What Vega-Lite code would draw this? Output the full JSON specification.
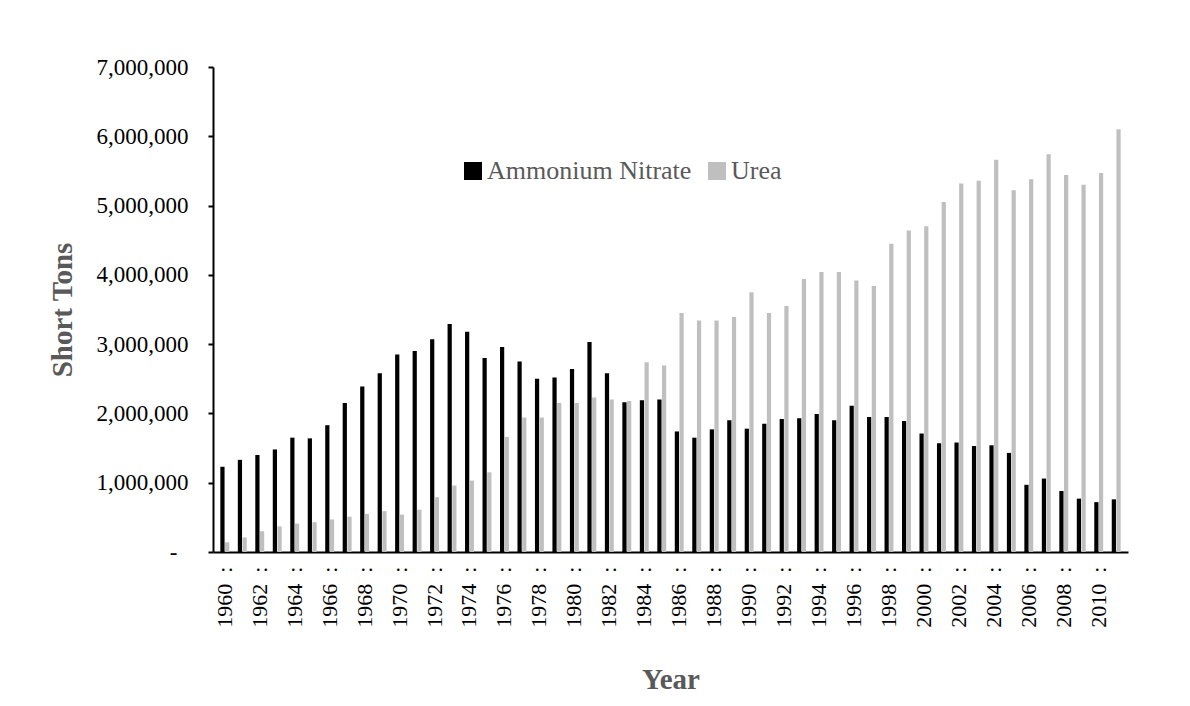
{
  "$schema": "https://vega.github.io/schema/vega-lite/v6.json",
  "width": 915,
  "height": 485,
  "autosize": {"type": "none"},
  "padding": {"left": 213, "top": 67, "right": 62, "bottom": 154},
  "background": "white",
  "config": {"view": {"stroke": null}, "font": "Liberation Serif"},
  "data": {"values": [
    {"year":1960,"type":"Ammonium Nitrate","tons":1230000},{"year":1960,"type":"Urea","tons":140000},
    {"year":1961,"type":"Ammonium Nitrate","tons":1330000},{"year":1961,"type":"Urea","tons":210000},
    {"year":1962,"type":"Ammonium Nitrate","tons":1400000},{"year":1962,"type":"Urea","tons":300000},
    {"year":1963,"type":"Ammonium Nitrate","tons":1480000},{"year":1963,"type":"Urea","tons":370000},
    {"year":1964,"type":"Ammonium Nitrate","tons":1650000},{"year":1964,"type":"Urea","tons":410000},
    {"year":1965,"type":"Ammonium Nitrate","tons":1640000},{"year":1965,"type":"Urea","tons":430000},
    {"year":1966,"type":"Ammonium Nitrate","tons":1830000},{"year":1966,"type":"Urea","tons":470000},
    {"year":1967,"type":"Ammonium Nitrate","tons":2150000},{"year":1967,"type":"Urea","tons":510000},
    {"year":1968,"type":"Ammonium Nitrate","tons":2390000},{"year":1968,"type":"Urea","tons":550000},
    {"year":1969,"type":"Ammonium Nitrate","tons":2580000},{"year":1969,"type":"Urea","tons":590000},
    {"year":1970,"type":"Ammonium Nitrate","tons":2850000},{"year":1970,"type":"Urea","tons":540000},
    {"year":1971,"type":"Ammonium Nitrate","tons":2900000},{"year":1971,"type":"Urea","tons":610000},
    {"year":1972,"type":"Ammonium Nitrate","tons":3070000},{"year":1972,"type":"Urea","tons":790000},
    {"year":1973,"type":"Ammonium Nitrate","tons":3290000},{"year":1973,"type":"Urea","tons":960000},
    {"year":1974,"type":"Ammonium Nitrate","tons":3180000},{"year":1974,"type":"Urea","tons":1030000},
    {"year":1975,"type":"Ammonium Nitrate","tons":2800000},{"year":1975,"type":"Urea","tons":1150000},
    {"year":1976,"type":"Ammonium Nitrate","tons":2960000},{"year":1976,"type":"Urea","tons":1660000},
    {"year":1977,"type":"Ammonium Nitrate","tons":2750000},{"year":1977,"type":"Urea","tons":1940000},
    {"year":1978,"type":"Ammonium Nitrate","tons":2500000},{"year":1978,"type":"Urea","tons":1940000},
    {"year":1979,"type":"Ammonium Nitrate","tons":2520000},{"year":1979,"type":"Urea","tons":2150000},
    {"year":1980,"type":"Ammonium Nitrate","tons":2640000},{"year":1980,"type":"Urea","tons":2150000},
    {"year":1981,"type":"Ammonium Nitrate","tons":3030000},{"year":1981,"type":"Urea","tons":2230000},
    {"year":1982,"type":"Ammonium Nitrate","tons":2580000},{"year":1982,"type":"Urea","tons":2200000},
    {"year":1983,"type":"Ammonium Nitrate","tons":2160000},{"year":1983,"type":"Urea","tons":2180000},
    {"year":1984,"type":"Ammonium Nitrate","tons":2190000},{"year":1984,"type":"Urea","tons":2740000},
    {"year":1985,"type":"Ammonium Nitrate","tons":2200000},{"year":1985,"type":"Urea","tons":2690000},
    {"year":1986,"type":"Ammonium Nitrate","tons":1740000},{"year":1986,"type":"Urea","tons":3450000},
    {"year":1987,"type":"Ammonium Nitrate","tons":1650000},{"year":1987,"type":"Urea","tons":3340000},
    {"year":1988,"type":"Ammonium Nitrate","tons":1770000},{"year":1988,"type":"Urea","tons":3340000},
    {"year":1989,"type":"Ammonium Nitrate","tons":1900000},{"year":1989,"type":"Urea","tons":3390000},
    {"year":1990,"type":"Ammonium Nitrate","tons":1780000},{"year":1990,"type":"Urea","tons":3750000},
    {"year":1991,"type":"Ammonium Nitrate","tons":1850000},{"year":1991,"type":"Urea","tons":3450000},
    {"year":1992,"type":"Ammonium Nitrate","tons":1920000},{"year":1992,"type":"Urea","tons":3550000},
    {"year":1993,"type":"Ammonium Nitrate","tons":1930000},{"year":1993,"type":"Urea","tons":3940000},
    {"year":1994,"type":"Ammonium Nitrate","tons":1990000},{"year":1994,"type":"Urea","tons":4040000},
    {"year":1995,"type":"Ammonium Nitrate","tons":1900000},{"year":1995,"type":"Urea","tons":4040000},
    {"year":1996,"type":"Ammonium Nitrate","tons":2110000},{"year":1996,"type":"Urea","tons":3920000},
    {"year":1997,"type":"Ammonium Nitrate","tons":1950000},{"year":1997,"type":"Urea","tons":3840000},
    {"year":1998,"type":"Ammonium Nitrate","tons":1950000},{"year":1998,"type":"Urea","tons":4450000},
    {"year":1999,"type":"Ammonium Nitrate","tons":1890000},{"year":1999,"type":"Urea","tons":4640000},
    {"year":2000,"type":"Ammonium Nitrate","tons":1710000},{"year":2000,"type":"Urea","tons":4700000},
    {"year":2001,"type":"Ammonium Nitrate","tons":1570000},{"year":2001,"type":"Urea","tons":5050000},
    {"year":2002,"type":"Ammonium Nitrate","tons":1580000},{"year":2002,"type":"Urea","tons":5320000},
    {"year":2003,"type":"Ammonium Nitrate","tons":1530000},{"year":2003,"type":"Urea","tons":5360000},
    {"year":2004,"type":"Ammonium Nitrate","tons":1540000},{"year":2004,"type":"Urea","tons":5660000},
    {"year":2005,"type":"Ammonium Nitrate","tons":1430000},{"year":2005,"type":"Urea","tons":5220000},
    {"year":2006,"type":"Ammonium Nitrate","tons":970000},{"year":2006,"type":"Urea","tons":5380000},
    {"year":2007,"type":"Ammonium Nitrate","tons":1060000},{"year":2007,"type":"Urea","tons":5740000},
    {"year":2008,"type":"Ammonium Nitrate","tons":880000},{"year":2008,"type":"Urea","tons":5440000},
    {"year":2009,"type":"Ammonium Nitrate","tons":770000},{"year":2009,"type":"Urea","tons":5300000},
    {"year":2010,"type":"Ammonium Nitrate","tons":720000},{"year":2010,"type":"Urea","tons":5470000},
    {"year":2011,"type":"Ammonium Nitrate","tons":760000},{"year":2011,"type":"Urea","tons":6100000}
  ]},
  "mark": {"type": "bar"},
  "encoding": {
    "x": {
      "field": "year", "type": "ordinal",
      "scale": {"paddingInner": 0.49, "paddingOuter": 0.42},
      "axis": {
        "values": [1960,1962,1964,1966,1968,1970,1972,1974,1976,1978,1980,1982,1984,1986,1988,1990,1992,1994,1996,1998,2000,2002,2004,2006,2008,2010],
        "labelExpr": "datum.value + '\u00a0\u00a0:'",
        "labelAngle": -90,
        "labelFontSize": 22,
        "labelColor": "#000000",
        "labelPadding": 14,
        "ticks": false,
        "domainColor": "#000000",
        "domainWidth": 2,
        "title": "Year",
        "titleFontSize": 29,
        "titleFontWeight": "bold",
        "titleColor": "#595959",
        "titlePadding": 38
      }
    },
    "xOffset": {"field": "type", "sort": ["Ammonium Nitrate", "Urea"], "scale": {"paddingInner": 0.1}},
    "y": {
      "field": "tons", "type": "quantitative",
      "scale": {"domain": [0, 7000000]},
      "axis": {
        "values": [0,1000000,2000000,3000000,4000000,5000000,6000000,7000000],
        "labelExpr": "datum.value == 0 ? '-' : format(datum.value, ',')",
        "labelPadding": {"condition": {"test": "datum.value == 0", "value": 31}, "value": 20},
        "grid": false,
        "domainColor": "#000000",
        "domainWidth": 2,
        "tickColor": "#000000",
        "tickSize": 5,
        "tickWidth": 2,
        "labelFontSize": 23,
        "labelColor": "#000000",
        "title": "Short Tons",
        "titleFontSize": 29,
        "titleFontWeight": "bold",
        "titleColor": "#595959",
        "titlePadding": 19
      }
    },
    "color": {
      "field": "type", "type": "nominal",
      "scale": {"domain": ["Ammonium Nitrate", "Urea"], "range": ["#000000", "#BFBFBF"]},
      "legend": {
        "orient": "none",
        "legendX": 247,
        "legendY": 91,
        "direction": "horizontal",
        "title": null,
        "symbolType": "square",
        "symbolSize": 324,
        "symbolStrokeWidth": 0,
        "labelFontSize": 26,
        "labelColor": "#595959",
        "labelFont": "Liberation Serif",
        "labelOffset": 1,
        "labelLimit": 0,
        "columnPadding": 12
      }
    }
  }
}
